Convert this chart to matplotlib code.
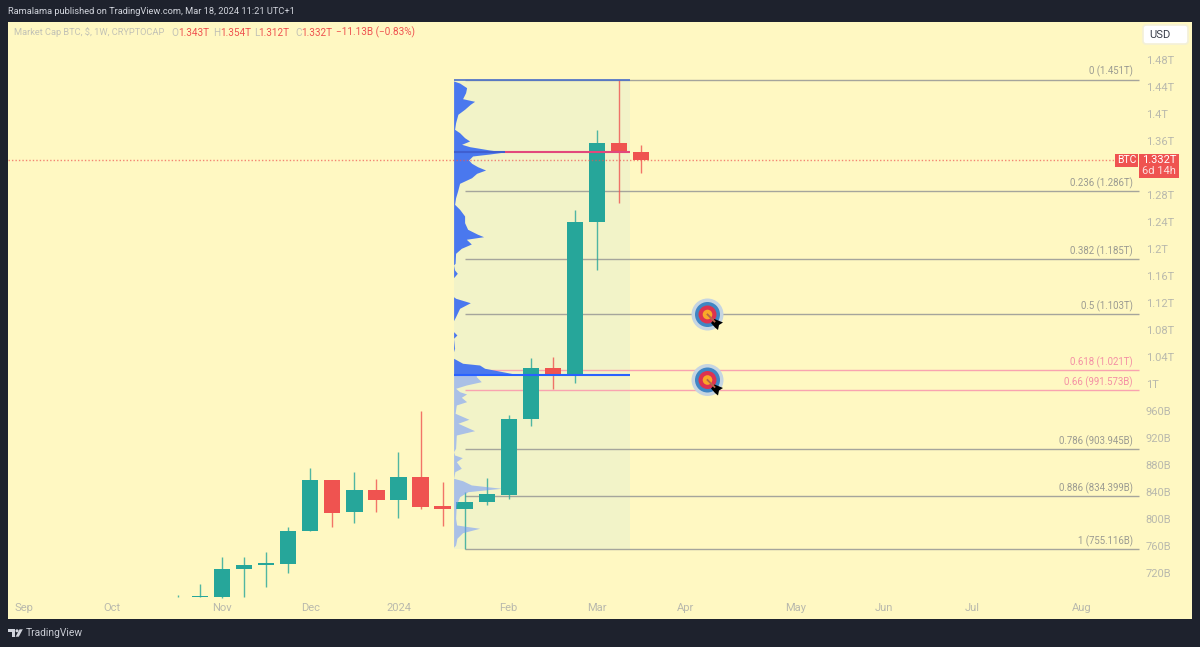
"""
plot.py
Weekly BTC market cap candles with fib levels and a volume profile.
"""

import matplotlib
matplotlib.use("Agg")
import matplotlib.pyplot as plt
from matplotlib.patches import Circle, FancyBboxPatch, Polygon, Rectangle

plt.rcParams["font.family"] = ["Roboto", "DejaVu Sans"]

# ------------------------------------------------------------------
# Data (prices in billions, x = week number)
# ------------------------------------------------------------------
weeks = list(range(22))
opens = [684.4, 684.4, 684.4, 725.9, 731.4, 733.8, 782.7, 857.8, 810.4, 843.0, 828.6,
         861.8, 818.8, 814.8, 825.2, 835.5, 948.1, 1023.3, 1015.3, 1240.0, 1357.5, 1343.0]
highs = [687.4, 703.3, 743.7, 743.7, 751.5, 787.7, 875.1, 857.8, 870.1, 859.3, 899.7,
         960.0, 854.8, 840.4, 860.3, 954.1, 1038.1, 1040.4, 1257.8, 1376.3, 1451.0, 1354.0]
lows = [684.4, 684.4, 683.4, 684.9, 698.8, 719.5, 782.7, 788.6, 794.5, 810.8, 801.9,
        814.8, 790.1, 755.1, 821.2, 830.1, 937.8, 992.6, 1001.0, 1168.9, 1267.7, 1312.0]
closes = [684.4, 685.9, 725.9, 731.9, 734.4, 782.7, 857.8, 808.9, 843.0, 828.6, 861.8,
          818.2, 814.8, 825.2, 836.6, 948.1, 1023.3, 1015.3, 1240.4, 1357.5, 1343.0, 1332.0]

fib_ratios = ["0", "0.236", "0.382", "0.5", "0.618", "0.66", "0.786", "0.886", "1"]
fib_prices = [1451.0, 1286.0, 1185.0, 1103.0, 1021.0, 991.573, 903.945, 834.399, 755.116]
fib_texts = ["1.451T", "1.286T", "1.185T", "1.103T", "1.021T", "991.573B", "903.945B",
             "834.399B", "755.116B"]
fib_pink = ["0.618", "0.66"]

# volume profile, value area part
profile_up_price = [1448.9, 1445.9, 1439.0, 1431.6, 1422.7, 1418.8, 1414.4, 1407.0, 1399.6,
                    1387.1, 1377.3, 1372.3, 1364.9, 1360.0, 1355.1, 1351.6, 1346.7, 1343.7,
                    1340.7, 1337.8, 1331.9, 1327.0, 1321.9, 1317.0, 1312.1, 1305.6, 1297.3,
                    1285.9, 1276.0, 1266.2, 1258.8, 1248.9, 1239.0, 1229.2, 1221.8, 1218.2,
                    1214.4, 1207.4, 1201.0, 1193.6, 1178.8, 1176.3, 1168.9, 1164.0, 1157.5,
                    1129.3, 1127.0, 1120.4, 1112.1, 1099.7, 1093.8, 1077.5, 1072.6, 1067.7,
                    1052.9, 1047.8, 1038.1, 1030.7, 1028.1, 1023.3, 1018.2, 1013.3]
profile_up_vol = [0, 6, 13, 12, 9, 21, 16.7, 11, 4.3, 2, 1, 6, 11, 16, 8, 16, 36, 51,
                  36, 19, 15, 18, 24, 32, 23, 18, 6, 4, 2, 1, 6, 11, 11, 14, 24, 30,
                  12.7, 17.7, 7.7, 2, 1.5, 0, 1, 3.7, 0, 0, 2, 16.7, 6, 2, 0, 0, 3.3, 0,
                  1, 0, 0, 9, 26, 31, 49, 66]

# volume profile, outside the value area
profile_dn_price = [1013.3, 1010.8, 1003.4, 998.5, 993.6, 988.6, 985.2, 980.3, 973.8, 968.9,
                    956.6, 947.7, 941.8, 930.8, 924.4, 904.7, 899.7, 894.8, 890.8, 884.9,
                    875.1, 870.1, 860.3, 856.7, 850.4, 845.5, 840.4, 833.0, 820.7, 801.0,
                    791.1, 786.2, 779.7, 771.4, 761.5, 758.1]
profile_dn_vol = [22.7, 22.7, 27.7, 12.7, 2, 6, 13, 7.7, 13, 2.7, 1.5, 15.3, 4.3, 21, 2.7, 2,
                  0, 1, 8.7, 2.7, 7.7, 1.3, 0, 9, 17.7, 47.7, 14.3, 6, 2.7, 2, 3, 26, 9,
                  3.3, 2, 0]

poc_high = 1343.7
poc_low = 1013.3
last_price = 1332.0

y_ticks = [1480, 1440, 1400, 1360, 1280, 1240, 1200, 1160, 1120, 1080, 1040, 1000,
           960, 920, 880, 840, 800, 760, 720]
y_labels = ["1.48T", "1.44T", "1.4T", "1.36T", "1.28T", "1.24T", "1.2T", "1.16T", "1.12T",
            "1.08T", "1.04T", "1T", "960B", "920B", "880B", "840B", "800B", "760B", "720B"]
x_ticks = [-7, -3, 2, 6, 10, 15, 19, 23, 28, 32, 36, 41]
x_labels = ["Sep", "Oct", "Nov", "Dec", "2024", "Feb", "Mar", "Apr", "May", "Jun", "Jul", "Aug"]

# ------------------------------------------------------------------
# Colours
# ------------------------------------------------------------------
DARK = "#1e222d"
PANEL = "#fff8c2"
BOX = "#f2f3c8"
UP = "#26a69a"
DOWN = "#ef5350"
AXIS_TEXT = "#b9b9ad"
FIB_GRAY = "#a5a59c"
FIB_TEXT = "#9b9b92"
PINK = "#f9a3b0"
PINK_TEXT = "#f48fa5"

PX_PER_WEEK = 22.05

# ------------------------------------------------------------------
# Figure and main axes
# ------------------------------------------------------------------
fig = plt.figure(figsize=(12, 6.47), dpi=100, facecolor=DARK)
ax = fig.add_axes([8 / 1200, 1 - 619 / 647, 1184 / 1200, 597 / 647], facecolor=PANEL)
ax.set_xlim(-7.71, 45.99)
ax.set_ylim(651.8, 1536.3)

for spine in ax.spines.values():
    spine.set_visible(False)

ax.yaxis.tick_right()
ax.set_yticks(y_ticks)
ax.set_yticklabels(y_labels)
ax.set_xticks(x_ticks)
ax.set_xticklabels(x_labels)
ax.tick_params(axis="y", length=0, pad=-33.3, labelsize=8, labelcolor=AXIS_TEXT)
ax.tick_params(axis="x", length=0, pad=-11.5, labelsize=8, labelcolor=AXIS_TEXT)

# shaded volume profile range
ax.axvspan(12.5, 20.5, ymin=(755.116 - 651.8) / 884.5, ymax=(1451 - 651.8) / 884.5,
           color=BOX, lw=0, zorder=1)

# ------------------------------------------------------------------
# Fib levels
# ------------------------------------------------------------------
for ratio, price, text in zip(fib_ratios, fib_prices, fib_texts):
    pink = ratio in fib_pink
    ax.hlines(price, 13, 43.58, color=PINK if pink else FIB_GRAY, lw=1, zorder=2)
    ax.annotate(f"{ratio} ({text})", (43.3, price), xytext=(0, 1.5), textcoords="offset points",
                ha="right", va="bottom", fontsize=6.9, color=PINK_TEXT if pink else FIB_TEXT,
                zorder=6)

# ------------------------------------------------------------------
# Candles
# ------------------------------------------------------------------
for w, o, h, l, c in zip(weeks, opens, highs, lows, closes):
    color = UP if c >= o else DOWN
    ax.vlines(w, l, h, color=color, lw=1, alpha=0.8, zorder=3)
    ax.bar(w, abs(c - o), bottom=min(o, c), width=0.74, color=color, lw=0, zorder=3)

# ------------------------------------------------------------------
# Volume profile
# ------------------------------------------------------------------
ax.fill_betweenx(profile_up_price, 12.5, [12.5 + v / PX_PER_WEEK for v in profile_up_vol],
                 color="#4a78ee", lw=0, zorder=4)
ax.fill_betweenx(profile_dn_price, 12.5, [12.5 + v / PX_PER_WEEK for v in profile_dn_vol],
                 color="#6f96ff", alpha=0.55, lw=0, zorder=4)

ax.hlines(1451, 12.5, 20.5, color="#4a6fc9", lw=1.2, zorder=5)
ax.hlines(poc_high, 12.5, 14.83, color="#3f5fd0", lw=1.5, zorder=5)
ax.hlines(poc_high, 14.83, 20.5, color="#e2487c", lw=1.5, zorder=5)
ax.hlines(poc_low, 12.5, 20.5, color="#2962ff", lw=1.5, zorder=5)

# last price line
ax.hlines(last_price, -7.71, 42.5, color=DOWN, lw=1, linestyles=(0, (1, 1.5)), alpha=0.7, zorder=5)

# ------------------------------------------------------------------
# Overlay in pixel coordinates: header, badges, icons, logo
# ------------------------------------------------------------------
over = fig.add_axes([0, 0, 1, 1], facecolor="none")
over.set_xlim(0, 1200)
over.set_ylim(647, 0)
over.axis("off")

over.text(8, 11.5, "Ramalama published on TradingView.com, Mar 18, 2024 11:21 UTC+1",
          color="#d1d4dc", fontsize=6.7, va="center", ha="left")

over.text(14, 32.5, "Market Cap BTC, $, 1W, CRYPTOCAP", color="#c2c2b6", fontsize=6.7, va="center")
legend_parts = [(171, "O", "#c2c2b6"), (178, "1.343T", DOWN), (213, "H", "#c2c2b6"),
                (220, "1.354T", DOWN), (254, "L", "#c2c2b6"), (258, "1.312T", DOWN),
                (295, "C", "#c2c2b6"), (301, "1.332T", DOWN), (336, "−11.13B (−0.83%)", DOWN)]
for x, text, color in legend_parts:
    over.text(x, 32.5, text, color=color, fontsize=7.2, va="center")

# USD button
over.add_patch(FancyBboxPatch((1143, 25), 45, 19, boxstyle="round,pad=0,rounding_size=3",
                              facecolor="white", edgecolor="#f3f0d8", lw=1.2))
over.text(1149, 34.7, "USD", color="#3a3e4a", fontsize=8, va="center")

# price badges
over.add_patch(Rectangle((1115, 153.5), 23, 13, facecolor=DOWN, lw=0))
over.add_patch(Rectangle((1139, 153.5), 40, 24, facecolor=DOWN, lw=0))
over.text(1126.5, 160, "BTC", color="white", fontsize=7.5, ha="center", va="center")
over.text(1159, 160, "1.332T", color="white", fontsize=8, ha="center", va="center")
over.text(1159, 171.5, "6d 14h", color="#fde0df", fontsize=8, ha="center", va="center")

# target icons
for cx, cy in [(707.5, 314.5), (707.5, 380)]:
    for radius, color in [(16, "#c5d5e2"), (12.5, "#3f86c4"), (9, "#dd3350"), (4.8, "#f9a828")]:
        over.add_patch(Circle((cx, cy), radius, facecolor=color, lw=0))
    over.plot([cx, cx + 7], [cy, cy + 7], color="#b5654a", lw=1.3)
    over.add_patch(Polygon([(cx + 3.5, cy + 8.5), (cx + 7, cy + 4.5), (cx + 15.5, cy + 8),
                            (cx + 11.5, cy + 10.5), (cx + 10.5, cy + 15.5), (cx + 7.5, cy + 13)],
                           facecolor="black", lw=0))

# TradingView logo
logo_color = "#d1d4dc"
over.add_patch(Polygon([(8.3, 629.3), (15.3, 629.3), (15.3, 636.7), (12, 636.7), (12, 632.2), (8.3, 632.2)],
                       facecolor=logo_color, lw=0))
over.add_patch(Circle((17, 630.8), 1.5, facecolor=logo_color, lw=0))
over.add_patch(Polygon([(19.5, 629.3), (22.8, 629.3), (18.8, 636.7), (15.6, 636.7)],
                       facecolor=logo_color, lw=0))
over.text(26, 633, "TradingView", color="#c8cbd3", fontsize=7.4, va="center", ha="left")

fig.savefig("out.png", dpi=100, facecolor=DARK)
plt.close(fig)
